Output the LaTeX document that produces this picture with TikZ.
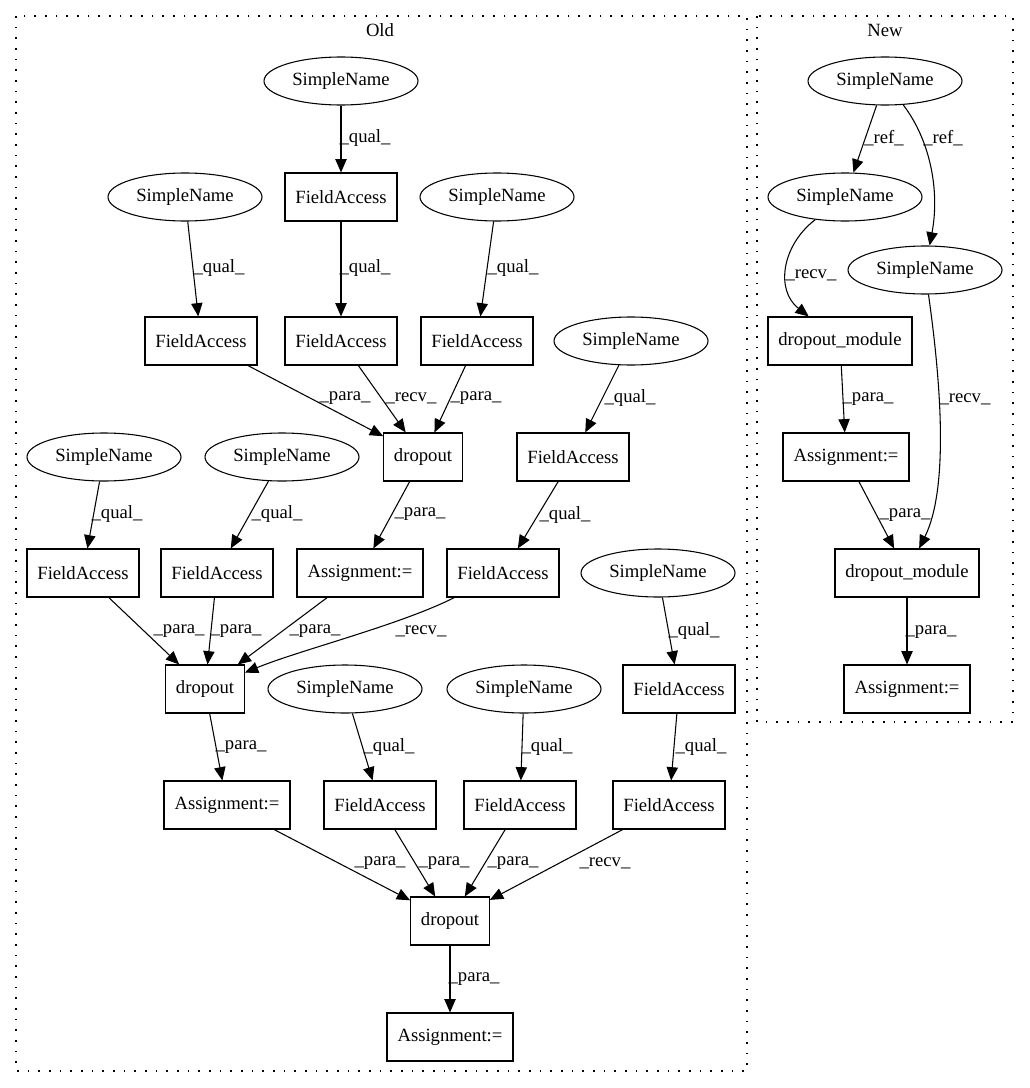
\documentclass[tikz,border=0pt]{standalone}
\usepackage{fontspec}
\setmainfont{Liberation Serif}
\usetikzlibrary{arrows.meta,shapes.geometric}
\begin{document}
\begin{tikzpicture}[x=0.75pt,y=-0.75pt,
  every node/.style={font=\fontsize{14}{16}\selectfont},
  sn/.style={draw, ellipse, line width=0.8pt, minimum width=115.5pt, minimum height=36pt, inner sep=0pt},
  bx/.style={draw, rectangle, line width=0.8pt, minimum height=36pt, inner sep=0pt},
  fa/.style={bx, minimum width=84pt},
  dp/.style={bx, minimum width=59pt},
  asg/.style={bx, minimum width=94.5pt},
  dm/.style={bx, minimum width=108pt},
  e/.style={line width=0.8pt, -{Triangle[length=10pt,width=8.5pt]}},
  lbl/.style={inner sep=0pt},
  clu/.style={line width=1pt, dash pattern=on 1.3pt off 6.7pt},
]
\useasboundingbox (0,0) rectangle (1029,1088);

% clusters
\draw[clu] (16,16) rectangle (747,1071);
\node[lbl] (oldlbl) at (380,30) {Old};
\draw[clu] (757,16) rectangle (1013,722);
\node[lbl] (newlbl) at (885,30) {New};

% Old nodes
\node[sn] (SN1) at (341,81) {SimpleName};
\node[fa] (FA1) at (341,197) {FieldAccess};
\node[sn] (SN2) at (185,197) {SimpleName};
\node[sn] (SN3) at (497,197) {SimpleName};
\node[fa] (FA2) at (201,341) {FieldAccess};
\node[fa] (FA3) at (341,341) {FieldAccess};
\node[fa] (FA4) at (477,341) {FieldAccess};
\node[sn] (SN4) at (631,341) {SimpleName};
\node[dp] (d1) at (423,457) {dropout};
\node[fa] (FA5) at (573,457) {FieldAccess};
\node[sn] (SN6) at (104,457) {SimpleName};
\node[sn] (SN7) at (282,457) {SimpleName};
\node[fa] (FA8) at (83,573) {FieldAccess};
\node[fa] (FA9) at (217,573) {FieldAccess};
\node[asg] (A1) at (360,573) {Assignment:=};
\node[fa] (FA6) at (503,573) {FieldAccess};
\node[sn] (SN5) at (658,573) {SimpleName};
\node[dp] (d2) at (205,689) {dropout};
\node[sn] (SN8) at (345,689) {SimpleName};
\node[sn] (SN9) at (524,689) {SimpleName};
\node[fa] (FA7) at (679,689) {FieldAccess};
\node[asg] (A2) at (227,805) {Assignment:=};
\node[fa] (FA10) at (380,805) {FieldAccess};
\node[fa] (FA11) at (520,805) {FieldAccess};
\node[fa] (FA12) at (669,805) {FieldAccess};
\node[dp] (d3) at (450,921) {dropout};
\node[asg] (A3) at (450,1037) {Assignment:=};

% New nodes
\node[sn] (NSN1) at (885,81) {SimpleName};
\node[sn] (NSN2) at (845,197) {SimpleName};
\node[sn] (NSN3) at (925,270) {SimpleName};
\node[dm] (DM1) at (840,341) {dropout\_module};
\node[asg] (AN1) at (846,457) {Assignment:=};
\node[dm] (DM2) at (907,573) {dropout\_module};
\node[asg] (AN2) at (907,689) {Assignment:=};

% Old edges
\draw[e] (SN1) -- (FA1) node[lbl, at={(365,138)}] {\_qual\_};
\draw[e] (SN2) -- (FA2) node[lbl, at={(219,268)}] {\_qual\_};
\draw[e] (FA1) -- (FA3) node[lbl, at={(365,268)}] {\_qual\_};
\draw[e] (SN3) -- (FA4) node[lbl, at={(513,268)}] {\_qual\_};
\draw[e] (FA2) -- (d1) node[lbl, at={(345,398)}] {\_para\_};
\draw[e] (FA3) -- (d1) node[lbl, at={(411,398)}] {\_recv\_};
\draw[e] (FA4) -- (d1) node[lbl, at={(476,398)}] {\_para\_};
\draw[e] (SN4) -- (FA5) node[lbl, at={(630,398)}] {\_qual\_};
\draw[e] (SN6) -- (FA8) node[lbl, at={(117,514)}] {\_qual\_};
\draw[e] (SN7) -- (FA9) node[lbl, at={(277,514)}] {\_qual\_};
\draw[e] (d1) -- (A1) node[lbl, at={(420,514)}] {\_para\_};
\draw[e] (FA5) -- (FA6) node[lbl, at={(565,515)}] {\_qual\_};
\draw[e] (FA8) -- (d2) node[lbl, at={(179,631)}] {\_para\_};
\draw[e] (FA9) -- (d2) node[lbl, at={(236,631)}] {\_para\_};
\draw[e] (A1) -- (d2) node[lbl, at={(315,631)}] {\_para\_};
\draw[e] (FA6) .. controls (400,625) and (300,650) .. (d2) node[lbl, at={(421,631)}] {\_recv\_};
\draw[e] (SN5) -- (FA7) node[lbl, at={(694,631)}] {\_qual\_};
\draw[e] (d2) -- (A2) node[lbl, at={(241,747)}] {\_para\_};
\draw[e] (SN8) -- (FA10) node[lbl, at={(389,747)}] {\_qual\_};
\draw[e] (SN9) -- (FA11) node[lbl, at={(547,747)}] {\_qual\_};
\draw[e] (FA7) -- (FA12) node[lbl, at={(701,747)}] {\_qual\_};
\draw[e] (A2) -- (d3) node[lbl, at={(380,863)}] {\_para\_};
\draw[e] (FA10) -- (d3) node[lbl, at={(444,863)}] {\_para\_};
\draw[e] (FA11) -- (d3) node[lbl, at={(513,863)}] {\_para\_};
\draw[e] (FA12) -- (d3) node[lbl, at={(605,863)}] {\_recv\_};
\draw[e] (d3) -- (A3) node[lbl, at={(474,979)}] {\_para\_};

% New edges
\draw[e] (NSN1) -- (NSN2) node[lbl, at={(884,138)}] {\_ref\_};
\draw[e] (NSN1) .. controls (930,140) and (940,190) .. (NSN3) node[lbl, at={(943,138)}] {\_ref\_};
\draw[e] (NSN2) .. controls (782,245) and (775,290) .. (DM1) node[lbl, at={(811,275)}] {\_recv\_};
\draw[e] (DM1) -- (AN1) node[lbl, at={(868,399)}] {\_para\_};
\draw[e] (NSN3) .. controls (942,390) and (948,490) .. (DM2) node[lbl, at={(965,399)}] {\_recv\_};
\draw[e] (AN1) -- (DM2) node[lbl, at={(905,515)}] {\_para\_};
\draw[e] (DM2) -- (AN2) node[lbl, at={(931,632)}] {\_para\_};
\end{tikzpicture}
\end{document}
